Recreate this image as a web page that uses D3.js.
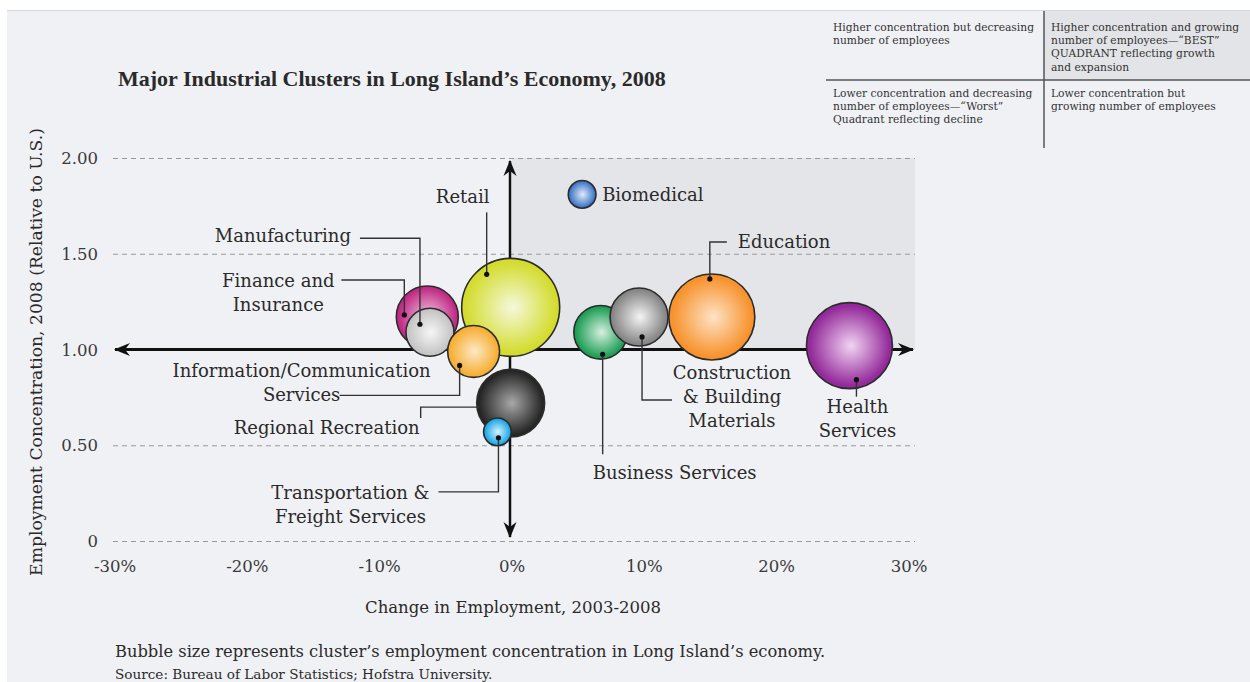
<!DOCTYPE html>
<html><head><meta charset="utf-8">
<script src="https://cdn.jsdelivr.net/npm/d3@7"></script>
<style>body{margin:0;background:#fff;} svg{display:block}</style>
</head><body>
<svg id="chart" width="1250" height="682"></svg>
<script>
// ---------- data (drawing order) ----------
const clusters = ["Retail", "Finance and Insurance", "Manufacturing", "Regional Recreation",
  "Information/Communication Services", "Transportation & Freight Services", "Business Services",
  "Construction & Building Materials", "Education", "Health Services", "Biomedical"];
const employmentChange = [-0.1, -6.4, -6.2, -0.1, -2.9, -1.1, 6.7, 9.6, 15.1, 25.5, 5.3];   // % 2003-2008
const concentration    = [1.22, 1.17, 1.09, 0.72, 0.99, 0.57, 1.09, 1.17, 1.17, 1.02, 1.81]; // relative to U.S.
const bubbleSize       = [100, 40, 24, 48, 28, 8, 30, 35, 77, 77, 8];   // relative share of LI employment
const baseColors  = ["#d3dc2e", "#c02a84", "#c4c4c4", "#262626", "#f6ae33", "#18a6e6", "#1e9d55", "#858585", "#f7922c", "#93299a", "#3a74c6"];
const lightColors = ["#f6f8dc", "#f3c6e2", "#f6f6f6", "#a8a8a8", "#fde9c6", "#d6f2ff", "#d6f0e0", "#f4f4f4", "#fde3c6", "#f1d4f2", "#e2eaf8"];
const xTicks = [-30, -20, -10, 0, 10, 20, 30];
const xTickLabels = ["-30%", "-20%", "-10%", "0%", "10%", "20%", "30%"];
const yTicks = [0, 0.5, 1, 1.5, 2];
const yTickLabels = ["0", "0.50", "1.00", "1.50", "2.00"];
const quadrantTL = ["Higher concentration but decreasing", "number of employees"];
const quadrantTR = ["Higher concentration and growing", "number of employees\u2014\u201CBEST\u201D", "QUADRANT reflecting growth", "and expansion"];
const quadrantBL = ["Lower concentration and decreasing", "number of employees\u2014\u201CWorst\u201D", "Quadrant reflecting decline"];
const quadrantBR = ["Lower concentration but", "growing number of employees"];
const titleText = "Major Industrial Clusters in Long Island\u2019s Economy, 2008";
const xTitle = "Change in Employment, 2003-2008";
const yTitle = "Employment Concentration, 2008 (Relative to U.S.)";
const note = "Bubble size represents cluster\u2019s employment concentration in Long Island\u2019s economy.";
const source = "Source: Bureau of Labor Statistics; Hofstra University.";

// ---------- label layout (offsets from bubble centre, px) ----------
const labelLayout = {
  "Retail": {dot:[-24,-33], path:[[-24,-95]], anchor:"middle", lx:-48, ly:[-104], lines:["Retail"]},
  "Finance and Insurance": {dot:[-23,-2], path:[[-23,-37],[-86,-37]], anchor:"middle", lx:-149, ly:[-30,-6], lines:["Finance and","Insurance"]},
  "Manufacturing": {dot:[-10,-8], path:[[-10,-94],[-70,-94]], anchor:"end", lx:-79, ly:[-90], lines:["Manufacturing"]},
  "Regional Recreation": {dot:null, start:[-31,4], path:[[-90,4],[-90,15]], anchor:"middle", lx:-184, ly:[31], lines:["Regional Recreation"]},
  "Information/Communication Services": {dot:[-14,14], path:[[-14,44],[-134,44]], anchor:"middle", lx:-172, ly:[26,50], lines:["Information/Communication","Services"]},
  "Transportation & Freight Services": {dot:[1,6], path:[[1,60],[-59,60]], anchor:"middle", lx:-147, ly:[67,91], lines:["Transportation &","Freight Services"]},
  "Business Services": {dot:[2,22], path:[[2,122]], anchor:"middle", lx:74, ly:[147], lines:["Business Services"]},
  "Construction & Building Materials": {dot:[3,20], path:[[3,83],[33,83]], anchor:"middle", lx:93, ly:[62,86,110], lines:["Construction","& Building","Materials"]},
  "Education": {dot:[-2,-38], path:[[-2,-75],[15,-75]], anchor:"start", lx:26, ly:[-69], lines:["Education"]},
  "Health Services": {dot:[7,34], path:[[7,51]], anchor:"middle", lx:8, ly:[67,91], lines:["Health","Services"]},
  "Biomedical": {dot:null, path:null, anchor:"start", lx:20, ly:[7], lines:["Biomedical"]}
};

const data = clusters.map((c, i) => ({name:c, x:employmentChange[i], y:concentration[i], s:bubbleSize[i], c0:baseColors[i], c1:lightColors[i], i}));

const svg = d3.select("#chart");
const W = 1250, H = 682;
const serif = "'DejaVu Serif', serif";
const ink = "#2a2a2a";

// background
svg.append("rect").attr("width", W).attr("height", H).attr("fill", "#fff");
svg.append("rect").attr("x", 7).attr("y", 10).attr("width", W - 7).attr("height", H - 10).attr("fill", "#f0f1f5");
svg.append("line").attr("x1", 7).attr("x2", W).attr("y1", 10.5).attr("y2", 10.5).attr("stroke", "#d6d7da").attr("stroke-width", 1);

// scales
const x = d3.scaleLinear().domain([-30, 30]).range([115, 909]);
const y = d3.scaleLinear().domain([0, 2]).range([541, 158]);
const r = d3.scaleSqrt().domain([0, 100]).range([0, 49]);
const gridX0 = 113, gridX1 = 915;

// best quadrant shading
svg.append("rect").attr("x", x(0)).attr("y", y(2)).attr("width", gridX1 - x(0)).attr("height", y(1) - y(2)).attr("fill", "#e4e5e9");

// gridlines
svg.append("g").selectAll("line").data(yTicks.filter(t => t !== 1)).join("line")
  .attr("x1", gridX0).attr("x2", gridX1).attr("y1", d => y(d) + 0.5).attr("y2", d => y(d) + 0.5)
  .attr("stroke", "#9a9a9a").attr("stroke-width", 1).attr("stroke-dasharray", "5,4");

// y tick labels
svg.append("g").selectAll("text").data(yTicks).join("text")
  .attr("x", 98).attr("y", d => y(d) + 6).attr("text-anchor", "end")
  .attr("font-family", serif).attr("font-size", 16.5).attr("fill", "#3a3a3a")
  .text((d, i) => yTickLabels[i]);
// x tick labels
svg.append("g").selectAll("text").data(xTicks).join("text")
  .attr("x", d => x(d)).attr("y", 572).attr("text-anchor", "middle")
  .attr("font-family", serif).attr("font-size", 16.5).attr("fill", "#3a3a3a")
  .text((d, i) => xTickLabels[i]);

// arrow marker
const defs = svg.append("defs");
defs.append("marker").attr("id", "arrow").attr("viewBox", "-16 -8 18 16").attr("refX", 0).attr("refY", 0)
  .attr("markerWidth", 18).attr("markerHeight", 16).attr("markerUnits", "userSpaceOnUse").attr("orient", "auto-start-reverse")
  .append("path").attr("d", "M1,0 L-15,-6.5 L-10,0 L-15,6.5 Z").attr("fill", "#111");

// axes with arrows
svg.append("line").attr("x1", gridX0 + 2).attr("x2", gridX1 - 2).attr("y1", y(1)).attr("y2", y(1))
  .attr("stroke", "#111").attr("stroke-width", 3).attr("marker-start", "url(#arrow)").attr("marker-end", "url(#arrow)");
svg.append("line").attr("x1", x(0) - 2).attr("x2", x(0) - 2).attr("y1", y(2) + 3).attr("y2", y(0) - 4)
  .attr("stroke", "#111").attr("stroke-width", 2.5).attr("marker-start", "url(#arrow)").attr("marker-end", "url(#arrow)");

// gradients
data.forEach(d => {
  const g = defs.append("radialGradient").attr("id", "g" + d.i).attr("cx", "50%").attr("cy", "50%").attr("r", "55%").attr("fx", "52%").attr("fy", "50%");
  g.append("stop").attr("offset", "0%").attr("stop-color", d.c1);
  g.append("stop").attr("offset", "85%").attr("stop-color", d.c0);
  g.append("stop").attr("offset", "100%").attr("stop-color", d.c0);
});

const bubbles = svg.append("g");
bubbles.selectAll("circle").data(data).join("circle")
  .attr("cx", d => x(d.x)).attr("cy", d => y(d.y)).attr("r", d => r(d.s))
  .attr("fill", d => `url(#g${d.i})`).attr("stroke", "#2b2b2b").attr("stroke-width", 1.6);

const ann = svg.append("g");
data.forEach(d => {
  const L = labelLayout[d.name];
  const cx = x(d.x), cy = y(d.y);
  if (L.path) {
    const st = L.dot || L.start;
    const pts = [st].concat(L.path).map(p => [cx + p[0], cy + p[1]]);
    ann.append("path").attr("d", d3.line()(pts)).attr("fill", "none").attr("stroke", "#333").attr("stroke-width", 1.4);
  }
  if (L.dot) {
    ann.append("circle").attr("cx", cx + L.dot[0]).attr("cy", cy + L.dot[1]).attr("r", 2.6).attr("fill", "#111");
  }
  const t = ann.append("text").attr("font-family", serif).attr("font-size", 18).attr("fill", ink).attr("text-anchor", L.anchor);
  L.lines.forEach((ln, k) => {
    t.append("tspan").attr("x", cx + L.lx).attr("y", cy + L.ly[k]).text(ln);
  });
});

// titles
svg.append("text").attr("x", 118).attr("y", 86).attr("font-family", "'Liberation Serif', serif").attr("font-weight", "bold")
  .attr("font-size", 22).attr("fill", ink).text(titleText);
svg.append("text").attr("x", 513).attr("y", 613).attr("text-anchor", "middle").attr("font-family", serif)
  .attr("font-size", 16.5).attr("fill", ink).text(xTitle);
svg.append("text").attr("transform", "translate(42,352) rotate(-90)").attr("text-anchor", "middle").attr("font-family", serif)
  .attr("font-size", 17.2).attr("fill", ink).text(yTitle);
svg.append("text").attr("x", 115).attr("y", 657).attr("font-family", serif)
  .attr("font-size", 16.3).attr("fill", ink).text(note);
svg.append("text").attr("x", 115).attr("y", 679).attr("font-family", serif)
  .attr("font-size", 13.6).attr("fill", ink).text(source);

// quadrant legend
const q = svg.append("g");
q.append("rect").attr("x", 1044).attr("y", 11).attr("width", W - 1044).attr("height", 69).attr("fill", "#e3e4e7");
q.append("line").attr("x1", 826).attr("x2", W).attr("y1", 80).attr("y2", 80).attr("stroke", "#555").attr("stroke-width", 1.5);
q.append("line").attr("x1", 1044).attr("x2", 1044).attr("y1", 11).attr("y2", 148).attr("stroke", "#555").attr("stroke-width", 1.5);
function qText(lines, x0, y0) {
  const t = q.append("text").attr("font-family", serif).attr("font-size", 10.7).attr("fill", "#333");
  lines.forEach((ln, k) => t.append("tspan").attr("x", x0).attr("y", y0 + k * 13.2).text(ln));
}
qText(quadrantTL, 833, 31);
qText(quadrantTR, 1051, 31);
qText(quadrantBL, 833, 97);
qText(quadrantBR, 1051, 97);
</script>
</body></html>
